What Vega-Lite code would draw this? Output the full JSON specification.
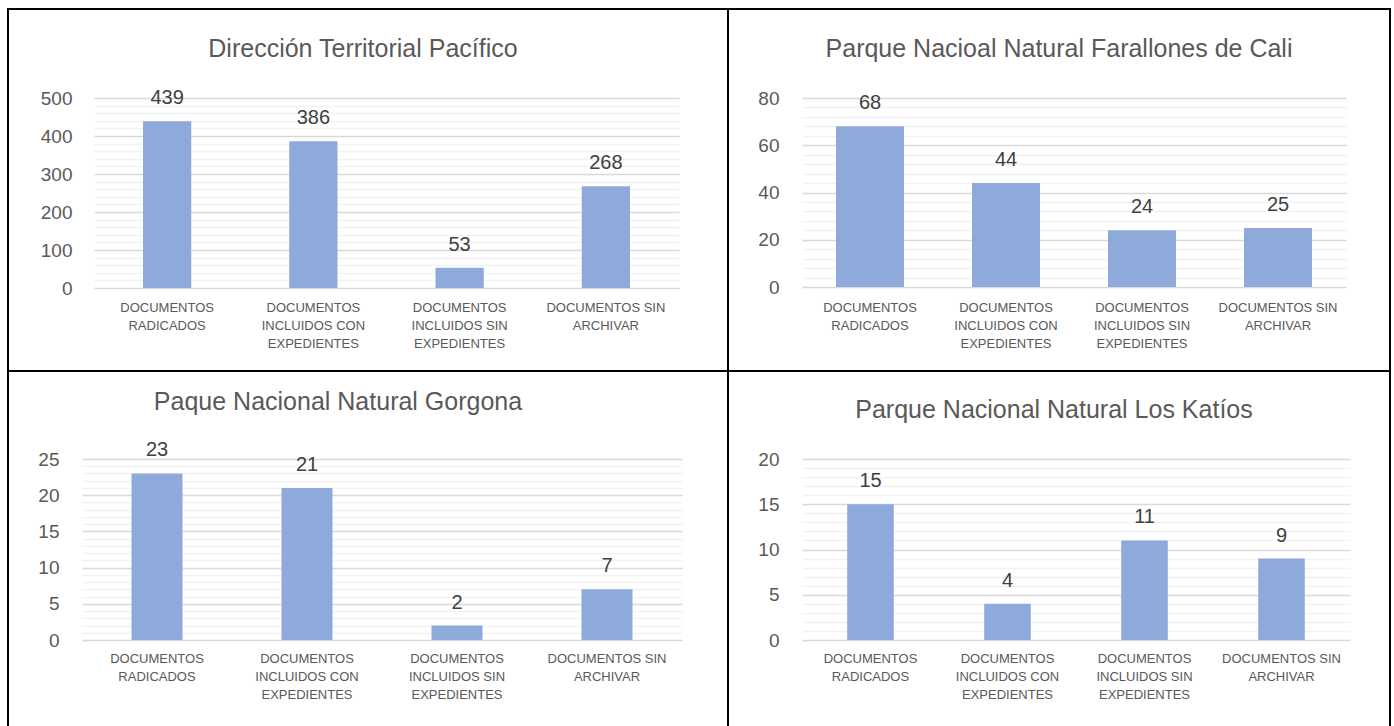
{
  "$schema": "https://vega.github.io/schema/vega-lite/v6.json",
  "padding": {"left": 7, "top": 8, "right": 0, "bottom": 0},
  "background": "white",
  "datasets": {
    "dtp": [
      {"categoria": "DOCUMENTOS RADICADOS", "documentos": 439},
      {"categoria": "DOCUMENTOS INCLUIDOS CON EXPEDIENTES", "documentos": 386},
      {"categoria": "DOCUMENTOS INCLUIDOS SIN EXPEDIENTES", "documentos": 53},
      {"categoria": "DOCUMENTOS SIN ARCHIVAR", "documentos": 268}
    ],
    "farallones": [
      {"categoria": "DOCUMENTOS RADICADOS", "documentos": 68},
      {"categoria": "DOCUMENTOS INCLUIDOS CON EXPEDIENTES", "documentos": 44},
      {"categoria": "DOCUMENTOS INCLUIDOS SIN EXPEDIENTES", "documentos": 24},
      {"categoria": "DOCUMENTOS SIN ARCHIVAR", "documentos": 25}
    ],
    "gorgona": [
      {"categoria": "DOCUMENTOS RADICADOS", "documentos": 23},
      {"categoria": "DOCUMENTOS INCLUIDOS CON EXPEDIENTES", "documentos": 21},
      {"categoria": "DOCUMENTOS INCLUIDOS SIN EXPEDIENTES", "documentos": 2},
      {"categoria": "DOCUMENTOS SIN ARCHIVAR", "documentos": 7}
    ],
    "katios": [
      {"categoria": "DOCUMENTOS RADICADOS", "documentos": 15},
      {"categoria": "DOCUMENTOS INCLUIDOS CON EXPEDIENTES", "documentos": 4},
      {"categoria": "DOCUMENTOS INCLUIDOS SIN EXPEDIENTES", "documentos": 11},
      {"categoria": "DOCUMENTOS SIN ARCHIVAR", "documentos": 9}
    ]
  },
  "spacing": 0,
  "bounds": "flush",
  "columns": 2,
  "concat": [
    {
      "width": 720, "height": 362,
      "title": {"text": "Dirección Territorial Pacífico", "offset": -73, "baseline": "alphabetic", "dx": -5},
      "data": {"name": "dtp"},
      "encoding": {
        "x": {"field": "categoria", "type": "nominal", "sort": null,
              "scale": {"range": [86, 671], "paddingInner": 0.67, "paddingOuter": 0.335},
              "axis": {"offset": -83, "labelPadding": 13}},
        "y": {"field": "documentos", "type": "quantitative",
              "scale": {"domain": [0, 500], "range": [279, 89], "nice": false},
              "axis": {"offset": -86, "labelPadding": 22,
                       "values": [0,20,40,60,80,100,120,140,160,180,200,220,240,260,280,300,320,340,360,380,400,420,440,460,480,500],
                       "labelExpr": "datum.value % 100 === 0 ? datum.label : ''",
                       "gridColor": {"condition": {"test": "datum.value % 100 === 0", "value": "#d9d9d9"}, "value": "#f2f2f2"}}}
      },
      "layer": [
        {"mark": {"type": "bar", "color": "#8eaadb"}},
        {"mark": {"type": "text", "baseline": "alphabetic", "dy": -17, "fontSize": 20, "color": "#404040", "font": "Liberation Sans"},
         "encoding": {"text": {"field": "documentos", "type": "quantitative"}}}
      ]
    },
    {
      "width": 662, "height": 362,
      "title": {"text": "Parque Nacioal Natural Farallones de Cali", "offset": -73, "baseline": "alphabetic"},
      "data": {"name": "farallones"},
      "encoding": {
        "x": {"field": "categoria", "type": "nominal", "sort": null,
              "scale": {"range": [74, 618], "paddingInner": 0.5, "paddingOuter": 0.25},
              "axis": {"offset": -84, "labelPadding": 14}},
        "y": {"field": "documentos", "type": "quantitative",
              "scale": {"domain": [0, 80], "range": [278, 89], "nice": false},
              "axis": {"offset": -74, "labelPadding": 23,
                       "values": [0,4,8,12,16,20,24,28,32,36,40,44,48,52,56,60,64,68,72,76,80],
                       "labelExpr": "datum.value % 20 === 0 ? datum.label : ''",
                       "gridColor": {"condition": {"test": "datum.value % 20 === 0", "value": "#d9d9d9"}, "value": "#f2f2f2"}}}
      },
      "layer": [
        {"mark": {"type": "bar", "color": "#8eaadb"}},
        {"mark": {"type": "text", "baseline": "alphabetic", "dy": -17, "fontSize": 20, "color": "#404040", "font": "Liberation Sans"},
         "encoding": {"text": {"field": "documentos", "type": "quantitative"}}}
      ]
    },
    {
      "width": 720, "height": 360,
      "title": {"text": "Paque Nacional Natural Gorgona", "offset": -64, "baseline": "alphabetic", "dx": -30},
      "data": {"name": "gorgona"},
      "encoding": {
        "x": {"field": "categoria", "type": "nominal", "sort": null,
              "scale": {"range": [74, 674], "paddingInner": 0.66, "paddingOuter": 0.33},
              "axis": {"offset": -91, "labelPadding": 12}},
        "y": {"field": "documentos", "type": "quantitative",
              "scale": {"domain": [0, 25], "range": [269, 88], "nice": false},
              "axis": {"offset": -74, "labelPadding": 23,
                       "values": [0,1,2,3,4,5,6,7,8,9,10,11,12,13,14,15,16,17,18,19,20,21,22,23,24,25],
                       "labelExpr": "datum.value % 5 === 0 ? datum.label : ''",
                       "gridColor": {"condition": {"test": "datum.value % 5 === 0", "value": "#d9d9d9"}, "value": "#f2f2f2"}}}
      },
      "layer": [
        {"mark": {"type": "bar", "color": "#8eaadb"}},
        {"mark": {"type": "text", "baseline": "alphabetic", "dy": -17, "fontSize": 20, "color": "#404040", "font": "Liberation Sans"},
         "encoding": {"text": {"field": "documentos", "type": "quantitative"}}}
      ]
    },
    {
      "width": 662, "height": 360,
      "title": {"text": "Parque Nacional Natural Los Katíos", "offset": -72, "baseline": "alphabetic", "dx": -5},
      "data": {"name": "katios"},
      "encoding": {
        "x": {"field": "categoria", "type": "nominal", "sort": null,
              "scale": {"range": [74, 622], "paddingInner": 0.66, "paddingOuter": 0.33},
              "axis": {"offset": -91, "labelPadding": 12}},
        "y": {"field": "documentos", "type": "quantitative",
              "scale": {"domain": [0, 20], "range": [269, 88], "nice": false},
              "axis": {"offset": -74, "labelPadding": 23,
                       "values": [0,1,2,3,4,5,6,7,8,9,10,11,12,13,14,15,16,17,18,19,20],
                       "labelExpr": "datum.value % 5 === 0 ? datum.label : ''",
                       "gridColor": {"condition": {"test": "datum.value % 5 === 0", "value": "#d9d9d9"}, "value": "#f2f2f2"}}}
      },
      "layer": [
        {"mark": {"type": "bar", "color": "#8eaadb"}},
        {"mark": {"type": "text", "baseline": "alphabetic", "dy": -17, "fontSize": 20, "color": "#404040", "font": "Liberation Sans"},
         "encoding": {"text": {"field": "documentos", "type": "quantitative"}}}
      ]
    }
  ],
  "config": {
    "view": {"stroke": "#000000", "strokeWidth": 2},
    "title": {"font": "Liberation Sans", "fontSize": 25, "fontWeight": "normal", "color": "#595959", "anchor": "middle"},
    "axisX": {
      "title": null, "domain": false, "ticks": false, "grid": false,
      "labelAngle": 0, "labelAlign": "center", "labelBaseline": "top",
      "labelFont": "Liberation Sans", "labelFontSize": 13, "labelColor": "#595959",
      "labelLineHeight": 18, "labelLimit": 0, "labelOverlap": false,
      "labelExpr": "datum.value == 'DOCUMENTOS RADICADOS' ? ['DOCUMENTOS','RADICADOS'] : datum.value == 'DOCUMENTOS INCLUIDOS CON EXPEDIENTES' ? ['DOCUMENTOS','INCLUIDOS CON','EXPEDIENTES'] : datum.value == 'DOCUMENTOS INCLUIDOS SIN EXPEDIENTES' ? ['DOCUMENTOS','INCLUIDOS SIN','EXPEDIENTES'] : ['DOCUMENTOS SIN','ARCHIVAR']"
    },
    "axisY": {
      "title": null, "domain": false, "ticks": false, "grid": true, "gridWidth": 1.5,
      "labelFont": "Liberation Sans", "labelFontSize": 19, "labelColor": "#595959",
      "labelOverlap": false, "labelBaseline": "middle"
    }
  }
}
